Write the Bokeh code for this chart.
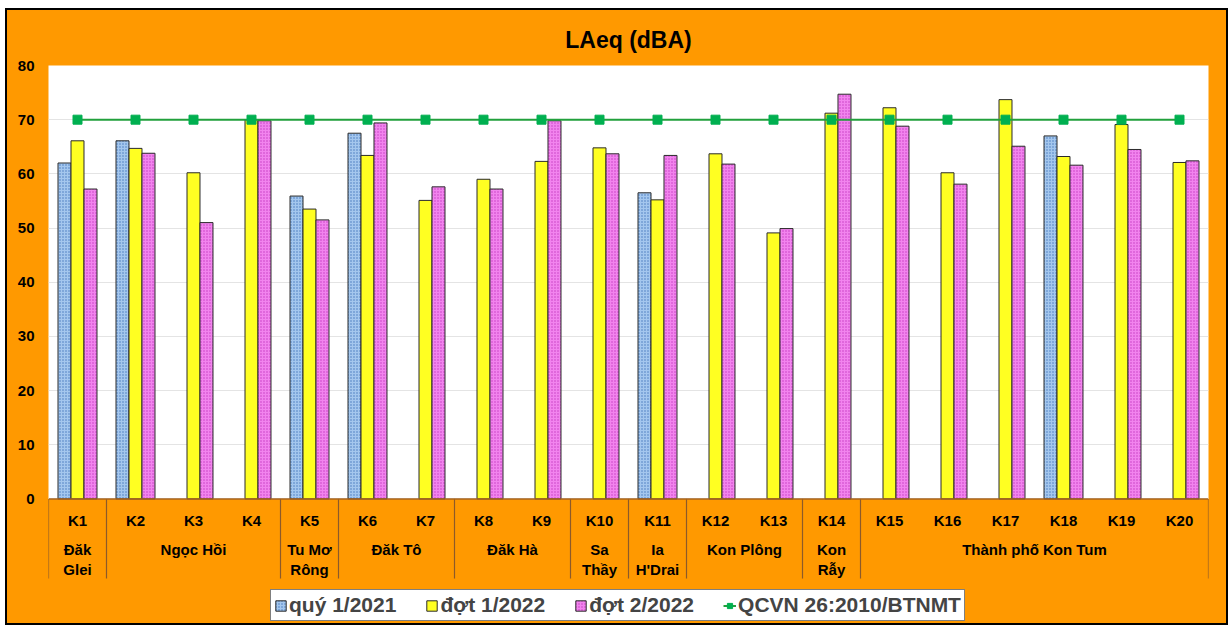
from itertools import groupby

import numpy as np
from bokeh.core.properties import value
from bokeh.embed import file_html
from bokeh.models import (ColumnDataSource, FixedTicker, Legend, LegendItem,
                          Range1d, Span)
from bokeh.plotting import figure
from bokeh.resources import INLINE
from bokeh.transform import dodge

nan = float("nan")

# Monitoring stations and the district each belongs to
stations = ["K1", "K2", "K3", "K4", "K5", "K6", "K7", "K8", "K9", "K10",
            "K11", "K12", "K13", "K14", "K15", "K16", "K17", "K18", "K19", "K20"]
districts = ["Đăk Glei", "Ngọc Hồi", "Ngọc Hồi", "Ngọc Hồi", "Tu Mơ Rông",
             "Đăk Tô", "Đăk Tô", "Đăk Hà", "Đăk Hà", "Sa Thầy", "Ia H'Drai",
             "Kon Plông", "Kon Plông", "Kon Rẫy",
             "Thành phố Kon Tum", "Thành phố Kon Tum", "Thành phố Kon Tum",
             "Thành phố Kon Tum", "Thành phố Kon Tum", "Thành phố Kon Tum"]
# Two-line versions of the narrow district names
district_labels = {"Đăk Glei": "Đăk\nGlei", "Tu Mơ Rông": "Tu Mơ\nRông",
                   "Sa Thầy": "Sa\nThầy", "Ia H'Drai": "Ia\nH'Drai",
                   "Kon Rẫy": "Kon\nRẫy"}

# LAeq (dBA) per campaign
quy1_2021 = [62.0, 66.1, nan, nan, 55.9, 67.5, nan, nan, nan, nan,
             56.5, nan, nan, nan, nan, nan, nan, 67.0, nan, nan]
dot1_2022 = [66.1, 64.7, 60.2, 70.0, 53.5, 63.4, 55.1, 59.0, 62.3, 64.8,
             55.2, 63.7, 49.1, 71.2, 72.2, 60.2, 73.7, 63.2, 69.1, 62.1]
dot2_2022 = [57.2, 63.8, 51.0, 69.8, 51.5, 69.4, 57.6, 57.2, 69.8, 63.7,
             63.4, 61.8, 49.9, 74.7, 68.8, 58.1, 65.1, 61.6, 64.5, 62.4]
# QCVN 26:2010/BTNMT limit
qcvn = [70, 70, 70, 70, 70, 70, 70, 70, 70, 70,
        70, 70, 70, 70, 70, 70, 70, 70, 70, 70]

y_ticks = [0, 10, 20, 30, 40, 50, 60, 70, 80]

FONT = "Liberation Sans"
ORANGE = "#FF9900"
EDGE = "#2a2a2a"
Y_MIN, Y_MAX = -23.0, 80

x_pos = np.arange(len(stations)) + 0.5
src = ColumnDataSource(dict(x=x_pos, station=stations, q1=quy1_2021,
                            d1=dot1_2022, d2=dot2_2022, qcvn=qcvn))

p = figure(width=1219, height=613,
           x_range=Range1d(0, len(stations)), y_range=Range1d(Y_MIN, Y_MAX),
           x_axis_type=None, output_backend="svg", toolbar_location=None,
           min_border_left=41, min_border_right=18, min_border_top=55,
           min_border_bottom=0, border_fill_color=ORANGE,
           background_fill_color=ORANGE, outline_line_color=None,
           margin=(10, 0, 0, 7),
           styles={"outline": "2px solid black", "background-color": ORANGE})

p.title.text = "LAeq (dBA)"
p.title.align = "center"
p.title.text_font = FONT
p.title.text_font_size = "23px"
p.title.text_font_style = "bold"
p.title.text_color = "black"
p.title.standoff = 26

ax = p.yaxis[0]
ax.ticker = FixedTicker(ticks=y_ticks)
ax.axis_line_color = None
ax.major_tick_line_color = None
ax.minor_tick_line_color = None
ax.major_label_text_font = FONT
ax.major_label_text_font_size = "15px"
ax.major_label_text_font_style = "bold"
ax.major_label_text_color = "black"
ax.major_label_standoff = 8
p.ygrid.grid_line_color = "#e4e4e4"

# White plotting area from 0 to 80 dBA, drawn beneath the grid
p.quad(left=-1, right=len(stations) + 1, bottom=0, top=Y_MAX + 1,
       fill_color="white", line_color=None, level="image")

bw = 0.224
r_q1 = p.vbar(x=dodge("x", -bw, range=p.x_range), top="q1", width=bw, source=src,
              fill_color="#a4c7ee", hatch_pattern="dot", hatch_color="#4478ba",
              hatch_scale=3, hatch_weight=2.2, line_color=EDGE, line_width=1)
r_d1 = p.vbar(x=dodge("x", 0, range=p.x_range), top="d1", width=bw, source=src,
              fill_color="#FFFF22", line_color=EDGE, line_width=1)
r_d2 = p.vbar(x=dodge("x", bw, range=p.x_range), top="d2", width=bw, source=src,
              fill_color="#F284EE", hatch_pattern="dot", hatch_color="#c63cc0",
              hatch_scale=3, hatch_weight=1.2, line_color=EDGE, line_width=1)

r_line = p.line(x="x", y="qcvn", source=src, line_color="#22a03c", line_width=2)
r_mark = p.scatter(x="x", y="qcvn", source=src, marker="square", size=9,
                   fill_color="#00B050", line_color="#00B050")

p.add_layout(Span(location=0, dimension="width", line_color="#a8651f",
                  line_width=1.5))

# Station labels
p.text(x="x", y=-4.0, text="station", source=src, text_align="center",
       text_baseline="middle", text_font=value(FONT), text_font_size="15px",
       text_font_style="bold", text_color="black")

# District labels and separators
bounds = [0]
gx, gtext = [], []
for name, grp in groupby(districts):
    n = len(list(grp))
    start = bounds[-1]
    bounds.append(start + n)
    gx.append(start + n / 2)
    gtext.append(district_labels.get(name, name))

p.text(x=gx, y=-7.7, text=gtext, text_align="center", text_baseline="top",
       text_line_height=1.2, text_font=value(FONT), text_font_size="15px",
       text_font_style="bold", text_color="black")
p.segment(x0=bounds, y0=[0] * len(bounds), x1=bounds, y1=[-14.7] * len(bounds),
          line_color="#8c5a2a", line_width=1.2)

legend = Legend(items=[
    LegendItem(label="quý 1/2021", renderers=[r_q1]),
    LegendItem(label="đợt 1/2022", renderers=[r_d1]),
    LegendItem(label="đợt 2/2022", renderers=[r_d2]),
    LegendItem(label="QCVN 26:2010/BTNMT", renderers=[r_line, r_mark]),
], orientation="horizontal", location=(222, 2))
legend.label_text_font = FONT
legend.label_text_font_size = "21px"
legend.label_text_font_style = "bold"
legend.label_standoff = 2
legend.glyph_width = 13
legend.glyph_height = 13
legend.spacing = 29
legend.padding = 3
legend.margin = 0
legend.border_line_color = "black"
legend.border_line_width = 1
legend.background_fill_color = "white"
legend.background_fill_alpha = 1
p.add_layout(legend)

open("out.html", "w").write(file_html(p, INLINE))
